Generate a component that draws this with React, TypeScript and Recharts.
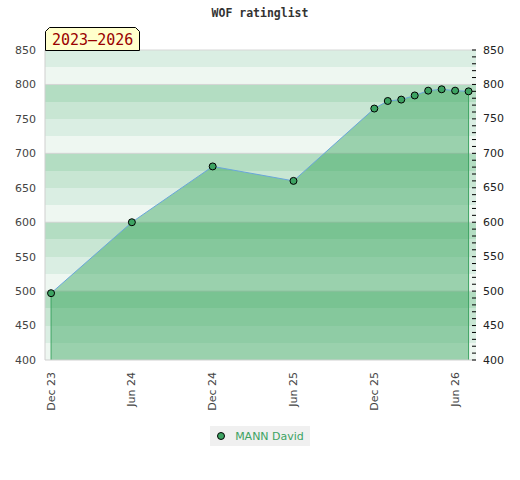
import {
  Area,
  CartesianGrid,
  ComposedChart,
  Legend,
  ReferenceLine,
  XAxis,
  YAxis,
} from 'recharts';

// month index counted from Dec 2023
const months = [0, 6, 12, 18, 24, 25, 26, 27, 28, 29, 30, 31];
const ratings = [497, 600, 681, 660, 765, 776, 778, 784, 791, 793, 791, 790];

const xTicks = [0, 6, 12, 18, 24, 30];
const xTickLabels = ['Dec 23', 'Jun 24', 'Dec 24', 'Jun 25', 'Dec 25', 'Jun 26'];

const yTicks = [400, 450, 500, 550, 600, 650, 700, 750, 800, 850];
const yMinorTicks = [
  400, 410, 420, 430, 440, 450, 460, 470, 480, 490, 500, 510, 520, 530, 540,
  550, 560, 570, 580, 590, 600, 610, 620, 630, 640, 650, 660, 670, 680, 690,
  700, 710, 720, 730, 740, 750, 760, 770, 780, 790, 800, 810, 820, 830, 840, 850,
];
const bandEdges = [
  400, 425, 450, 475, 500, 525, 550, 575, 600, 625, 650, 675, 700, 725, 750,
  775, 800, 825, 850,
];
const gridValues = [500, 600, 700, 800, 850];

const playerName = 'MANN David';
const chartTitle = 'WOF ratinglist';
const periodLabel = '2023–2026';

const data = months.map((m, i) => ({ m, rating: ratings[i] }));

// stripes from top to bottom
const bandColors = ['#daeee3', '#eef7f1', '#b3ddc2', '#c8e6d3'];

const GREEN = '#3da362';
const TEXT = '#444';

function XTick({ x, y, payload }: any) {
  const idx = xTicks.indexOf(payload.value);
  return (
    <text
      x={x}
      y={y}
      transform={`rotate(-90, ${x}, ${y})`}
      textAnchor="end"
      dominantBaseline="central"
      fontSize={11}
      fontFamily="DejaVu Sans"
      fill={TEXT}
    >
      {xTickLabels[idx]}
    </text>
  );
}

function RightTick({ x, y, payload }: any) {
  const major = payload.value % 50 === 0;
  return (
    <g>
      <line x1={x - 4} y1={y} x2={x} y2={y} stroke="#000" strokeWidth={1} />
      {major && (
        <text
          x={x + 7}
          y={y}
          dominantBaseline="central"
          fontSize={11}
          fontFamily="DejaVu Sans"
          fill="#222"
        >
          {payload.value}
        </text>
      )}
    </g>
  );
}

function LegendContent() {
  return (
    <div style={{ display: 'flex', justifyContent: 'center' }}>
      <div
        style={{
          background: '#f0f0f0',
          display: 'flex',
          alignItems: 'center',
          height: 20,
          padding: '0 6px 0 7px',
          fontFamily: 'DejaVu Sans',
          fontSize: 11,
          color: GREEN,
        }}
      >
        <svg width={14} height={10}>
          <circle cx={4} cy={5} r={3.5} fill={GREEN} stroke="#000" strokeWidth={1} />
        </svg>
        <span style={{ marginLeft: 4 }}>{playerName}</span>
      </div>
    </div>
  );
}

export default function App() {
  const first = data[0];
  const last = data[data.length - 1];
  return (
    <div
      style={{
        position: 'absolute',
        left: 0,
        top: 0,
        width: 520,
        height: 480,
        background: '#fff',
      }}
    >
      <div
        style={{
          position: 'absolute',
          top: 6,
          left: 0,
          width: 520,
          textAlign: 'center',
          fontFamily: 'DejaVu Sans Mono',
          fontWeight: 'bold',
          fontSize: 11.5,
          color: '#333',
        }}
      >
        {chartTitle}
      </div>
      <ComposedChart
        width={520}
        height={480}
        data={data}
        margin={{ top: 50, right: 0, bottom: 34, left: 0 }}
      >
        <CartesianGrid
          yAxisId="left"
          vertical={false}
          horizontalValues={bandEdges}
          horizontalFill={bandColors}
          fillOpacity={1}
          stroke="none"
        />
        <CartesianGrid
          yAxisId="left"
          vertical={false}
          horizontalValues={gridValues}
          stroke="#d6d6d6"
          strokeWidth={1}
        />
        <XAxis
          dataKey="m"
          type="number"
          domain={[-0.45, 31.55]}
          ticks={xTicks}
          tick={<XTick />}
          tickLine={false}
          tickSize={0}
          tickMargin={12}
          axisLine={{ stroke: '#cfcfcf' }}
          height={66}
          allowDataOverflow
        />
        <YAxis
          yAxisId="left"
          domain={[400, 850]}
          ticks={yTicks}
          interval={0}
          width={45}
          tickLine={false}
          tickSize={0}
          tickMargin={9}
          axisLine={{ stroke: '#cfcfcf' }}
          tick={{ fill: TEXT, fontSize: 11, fontFamily: 'DejaVu Sans' }}
          allowDataOverflow
        />
        <YAxis
          yAxisId="right"
          orientation="right"
          domain={[400, 850]}
          ticks={yMinorTicks}
          interval={0}
          width={44}
          tickLine={false}
          tickSize={0}
          tickMargin={0}
          axisLine={false}
          tick={<RightTick />}
          allowDataOverflow
        />
        <Area
          yAxisId="left"
          type="linear"
          dataKey="rating"
          stroke="#6aa6da"
          strokeWidth={1}
          fill="#2da054"
          fillOpacity={0.43}
          dot={{ r: 3.5, fill: GREEN, stroke: '#000', strokeWidth: 1, fillOpacity: 1 }}
          activeDot={false}
          isAnimationActive={false}
          legendType="circle"
          name={playerName}
        />
        <ReferenceLine
          yAxisId="left"
          segment={[
            { x: first.m, y: yTicks[0] },
            { x: first.m, y: first.rating },
          ]}
          stroke={GREEN}
          strokeWidth={1}
        />
        <ReferenceLine
          yAxisId="left"
          segment={[
            { x: last.m, y: yTicks[0] },
            { x: last.m, y: last.rating },
          ]}
          stroke={GREEN}
          strokeWidth={1}
        />
        <Legend verticalAlign="bottom" height={20} content={<LegendContent />} />
      </ComposedChart>
      <svg
        style={{ position: 'absolute', left: 0, top: 0 }}
        width={160}
        height={52}
      >
        <polygon
          points="45.5,50.5 45.5,31.5 49.5,27.5 135.5,27.5 139.5,31.5 139.5,50.5"
          fill="#ffffcc"
          stroke="#000"
          strokeWidth={1}
        />
        <text
          x={52}
          y={45}
          fontFamily="DejaVu Sans Mono"
          fontSize={15}
          fill="#990000"
        >
          {periodLabel}
        </text>
      </svg>
    </div>
  );
}
